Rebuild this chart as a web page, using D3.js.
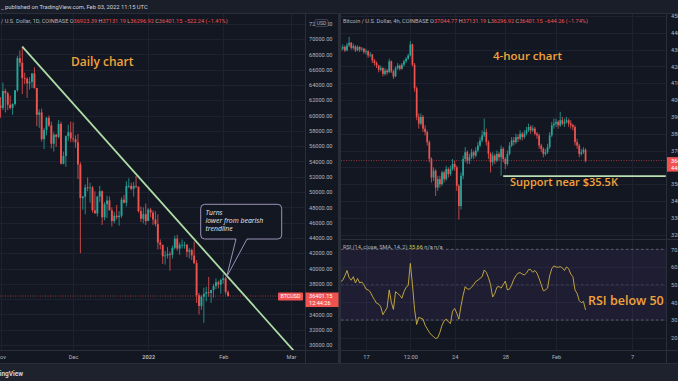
<!DOCTYPE html>
<html><head><meta charset="utf-8">
<script src="https://cdn.jsdelivr.net/npm/d3@7"></script>
<style>html,body{margin:0;padding:0;background:#131722;overflow:hidden}</style>
</head><body><svg id="c" width="678" height="381"></svg>
<script>
// ---------------- DATA ----------------
// Daily BTCUSD candles, starting 2021-10-29 (one per day)
const dailyStart = "2021-10-29";
const dailyOpen = [60600,62200,61800,
 61300,61000,63200,62900,61400,61000,61500,63300,67500,66900,64900,64800,64200,64400,65500,63600,60100,60400,56900,58100,59700,58700,56300,57500,57200,58900,53700,54700,57300,57800,
 57000,56900,56500,53600,49200,49400,50600,50500,50600,47600,47200,49400,50100,46700,48400,48900,47600,46200,46900,46700,46900,49000,48600,50800,50800,50400,50800,50700,47500,46500,47100,
 46200,47700,47300,46400,45800,43400,43100,41600,41700,41900,41800,42700,43900,42600,43100,43100,43100,42200,42400,41700,40700,36500,35100,36300,36700,36900,36800,37200,37700,38200,37900,
 38500,38700,36923.39];
const dailyHigh = [62900,62300,62400,
 62400,64300,63500,63100,62600,61600,63300,67800,68500,69000,65600,65000,65000,65500,66300,63600,60800,60900,58400,59800,60000,59200,57800,57600,59400,59200,55300,57400,58800,59200,
 59100,57400,57600,53900,49500,51000,51900,51200,50800,50100,49500,50800,50200,48700,49500,49400,48000,47400,48300,47500,49300,49600,51400,51800,51200,51300,52100,50700,48100,48000,48500,
 47900,47900,47600,47500,47100,43800,43100,42300,42800,42200,43000,44300,44400,43400,43800,43500,43200,42700,42600,43500,41100,36800,36500,37500,37600,38900,37200,38000,38700,38400,38700,
 39300,38900,37131.19];
const dailyLow = [60200,60700,59500,
 59700,60700,60400,60700,60800,60100,61300,63100,66400,62800,64100,62300,63400,63600,63500,58600,58400,56600,55600,57400,58500,55700,55300,55900,57000,53600,53600,53300,56700,56500,
 56500,55800,51700,42000,47700,47100,50100,48600,47300,47200,46800,48700,45700,46300,46600,47600,45500,45900,46400,45600,46600,48500,48100,50500,50200,49400,50500,47300,46100,45900,45700,
 46200,46700,45700,45500,42500,42500,40600,40500,41300,39700,41300,42500,42300,41800,42600,42600,41500,41300,41100,40600,35500,34000,34600,32900,35700,36300,35500,36200,37300,37400,36700,
 38000,36600,36296.92];
const dailyClose = [62200,61800,61300,
 61000,63200,62900,61400,61000,61500,63300,67500,66900,64900,64800,64200,64400,65500,63600,60100,60400,56900,58100,59700,58700,56300,57500,57200,58900,53700,54700,57300,57800,57000,
 56900,56500,53600,49200,49400,50600,50500,50600,47600,47200,49400,50100,46700,48400,48900,47600,46200,46900,46700,46900,49000,48600,50800,50800,50400,50800,50700,47500,46500,47100,46200,
 47700,47300,46400,45800,43400,43100,41600,41700,41900,41800,42700,43900,42600,43100,43100,43100,42200,42400,41700,40700,36500,35100,36300,36700,36900,36800,37200,37700,38200,37900,38500,
 38700,36923.39,36401.15];

// 4-hour BTCUSD candles, starting 2022-01-15 00:00 UTC
const h4Start = "2022-01-15T00:00:00Z";
const h4Open = [43000,43050,43150,42950,43250,43400,43100,43200,42950,43150,43000,43050,42850,42900,42650,42700,42350,42200,42050,41800,
 41900,41550,41750,41650,42300,41700,41400,41900,42050,41850,42100,42300,42450,42650,43300,42100,40700,39000,38600,39000,
 38300,38100,37500,36500,35400,35800,34800,35300,35000,35700,35300,35900,35600,35900,36200,36000,34900,33700,35500,36500,
 36900,36400,36600,36900,36700,37000,37300,37600,37900,38100,37500,36800,36300,36700,36400,36800,36600,37100,36500,36200,
 36800,37300,37600,37500,37800,37700,38000,37800,38000,38200,38400,38200,38300,38000,37900,37300,37100,36800,36900,37200,
 37900,38500,38600,38700,38500,38800,38600,38700,38800,38600,38500,38400,37500,37300,36800,36900,37044.77];
const h4High = [43250,43300,43250,43400,43750,43450,43350,43250,43250,43200,43150,43100,43050,42950,42850,42750,42450,42300,42100,42050,
 41950,41900,41850,42450,42350,41800,42000,42200,42100,42200,42400,42550,42750,43500,43350,42200,40800,39200,39200,39100,
 38500,38200,37600,36600,36000,35900,35500,35500,35800,35800,36100,36000,36100,36500,36400,36100,35000,35700,36700,37200,
 37000,36800,37100,37000,37200,37500,37800,38200,38900,38300,37600,36900,36900,36800,37000,36900,37300,37200,36600,37000,
 37500,37800,37800,38000,37950,38200,38100,38200,38400,38600,38500,38500,38400,38100,38000,37400,37200,37100,37400,38100,
 38700,38900,38900,38800,39300,39000,38900,39000,38900,38800,38600,38500,37700,37400,37100,37200,37131.19];
const h4Low = [42850,42950,42850,42900,43150,43000,43000,42850,42900,42850,42900,42750,42700,42500,42550,42200,42050,41900,41650,41700,
 41400,41450,41500,41600,41600,41250,41350,41800,41750,41800,42000,42200,42400,42600,42000,40500,38800,38300,38500,38100,
 37900,37300,36300,35100,35200,34300,34600,34800,34900,35100,35200,35400,35500,35800,35800,34600,32900,33500,35300,36300,
 36200,36200,36500,36500,36600,36900,37200,37500,37800,37300,36500,35700,36100,36200,36300,36400,35500,36300,35900,36100,
 36700,37200,37300,37400,37500,37600,37600,37700,37900,38100,38000,38100,37900,37700,37100,36900,36600,36700,36800,37100,
 37800,38300,38400,38300,38400,38500,38400,38600,38400,38300,38200,37300,37100,36600,36700,36800,36296.92];
const h4Close = [43050,43150,42950,43250,43400,43100,43200,42950,43150,43000,43050,42850,42900,42650,42700,42350,42200,42050,41800,41900,
 41550,41750,41650,42300,41700,41400,41900,42050,41850,42100,42300,42450,42650,43300,42100,40700,39000,38600,39000,38300,
 38100,37500,36500,35400,35800,34800,35300,35000,35700,35300,35900,35600,35900,36200,36000,34900,33700,35500,36500,36900,
 36400,36600,36900,36700,37000,37300,37600,37900,38100,37500,36800,36300,36700,36400,36800,36600,37100,36500,36200,36800,
 37300,37600,37500,37800,37700,38000,37800,38000,38200,38400,38200,38300,38000,37900,37300,37100,36800,36900,37200,37900,
 38500,38600,38700,38500,38800,38600,38700,38800,38600,38500,38400,37500,37300,36800,36900,37044.77,36401.15];
// RSI(14) per 4h candle
const rsiValues = [51.7,52.5,55,58,54,52.5,54.5,51,53.5,51,51.5,50,47.5,47,46,43.5,41.5,39.5,39,37.5,
 33,35,37,47,40,36,46,45,44,42.3,46,48.5,49.5,62,50,36,27.5,31.5,31,30.5,
 27,25,23,21.5,20.6,19.5,20,23,27,29.5,30.5,29,28,35,36.5,33.8,30.5,38,44,48.9,
 47.5,47.5,48.5,50,51.8,52.5,53.5,54.5,58.3,57,54,50,43,45,48.5,49,48,50,52,47,
 47.5,50,53,55,56.5,56.8,56,55.5,56.5,58.5,58.5,57,58,56.5,53.5,50,46.5,47,48,55,
 59,60.6,60,59.8,60.2,59.5,58,60,59,56,54.5,47,45,41,39.8,40.5,35.66];

// Tick labels
const leftPriceTicks = [30000,32000,34000,36000,38000,40000,42000,44000,46000,48000,50000,52000,54000,56000,58000,60000,62000,64000,66000,68000,70000,72000];
const leftTimeTicks = [["2021-11-01","Nov"],["2021-12-01","Dec"],["2022-01-01","2022"],["2022-02-01","Feb"],["2022-03-01","Mar"]];
const rightPriceTicks = [32000,33000,34000,35000,36000,37000,38000,39000,40000,41000,42000,43000,44000,45000];
const rightTimeTicks = [["2022-01-17T00:00:00Z","17"],["2022-01-20T12:00:00Z","12:00"],["2022-01-24T00:00:00Z","24"],["2022-01-28T00:00:00Z","28"],["2022-02-01T00:00:00Z","Feb"],["2022-02-07T00:00:00Z","7"]];
const rsiTicks = [20,30,40,50,60,70];

// Drawings
const trendLine = [["2021-11-10T00:00:00Z",69000],["2022-03-03T00:00:00Z",28940]];
const supportLine = [["2022-01-27T20:00:00Z",35480],["2022-02-09T16:00:00Z",35480]];
const lastPrice = 36401.15;
const calloutPoint = ["2022-02-02T00:00:00Z",38900];

// ---------------- CHART ----------------
const UP = "#26a69a", DN = "#ef5350", TXT = "#b2b5be", GRID = "#1d2130", BORDER = "#2a2e39";
const UIF = "Roboto, 'Noto Sans', sans-serif";
const svg = d3.select("#c");

svg.append("rect").attr("width",678).attr("height",381).attr("fill","#131722");
svg.append("rect").attr("width",678).attr("height",13).attr("fill","#1a1e29");
svg.append("rect").attr("y",364).attr("width",678).attr("height",17).attr("fill","#1e222d");

const defs = svg.append("defs");
defs.append("clipPath").attr("id","clipL").append("rect").attr("x",0).attr("y",13).attr("width",305).attr("height",337);
defs.append("clipPath").attr("id","clipR").append("rect").attr("x",341).attr("y",13).attr("width",325.5).attr("height",226);
defs.append("clipPath").attr("id","clipRSI").append("rect").attr("x",341).attr("y",240).attr("width",325.5).attr("height",110);

// Scales
const xL = d3.scaleUtc().domain([new Date("2021-11-01T00:00:00Z"), new Date("2022-03-01T00:00:00Z")]).range([0.5, 291]);
const yL = d3.scaleLinear().domain([30000,70000]).range([345,39]);
const xR = d3.scaleUtc().domain([new Date("2022-01-17T00:00:00Z"), new Date("2022-02-07T00:00:00Z")]).range([366, 632]);
const yR = d3.scaleLinear().domain([32000,44000]).range([234.7,32.7]);
const yRSI = d3.scaleLinear().domain([30,70]).range([320,249.3]);

// Grid
const gl = svg.append("g").attr("stroke",GRID).attr("stroke-width",1);
leftPriceTicks.forEach(v => gl.append("line").attr("x1",0).attr("x2",305).attr("y1",Math.round(yL(v))+0.5).attr("y2",Math.round(yL(v))+0.5));
leftTimeTicks.forEach(t => gl.append("line").attr("x1",Math.round(xL(new Date(t[0])))+0.5).attr("x2",Math.round(xL(new Date(t[0])))+0.5).attr("y1",13).attr("y2",350));
rightPriceTicks.forEach(v => { const y = Math.round(yR(v))+0.5; if (y>14 && y<239) gl.append("line").attr("x1",341).attr("x2",666).attr("y1",y).attr("y2",y); });
rsiTicks.forEach(v => gl.append("line").attr("x1",341).attr("x2",666).attr("y1",Math.round(yRSI(v))+0.5).attr("y2",Math.round(yRSI(v))+0.5));
rightTimeTicks.forEach(t => gl.append("line").attr("x1",Math.round(xR(new Date(t[0])))+0.5).attr("x2",Math.round(xR(new Date(t[0])))+0.5).attr("y1",13).attr("y2",350));

// Borders
const bd = svg.append("g").attr("stroke",BORDER).attr("stroke-width",1);
bd.append("line").attr("x1",0).attr("x2",678).attr("y1",13.5).attr("y2",13.5);
bd.append("line").attr("x1",0).attr("x2",678).attr("y1",350.5).attr("y2",350.5);
bd.append("line").attr("x1",0).attr("x2",678).attr("y1",363.5).attr("y2",363.5);
bd.append("line").attr("x1",305.5).attr("x2",305.5).attr("y1",13).attr("y2",364);
bd.append("line").attr("x1",666.5).attr("x2",666.5).attr("y1",13).attr("y2",364);
bd.append("line").attr("x1",341).attr("x2",678).attr("y1",239.5).attr("y2",239.5);
svg.append("rect").attr("x",338).attr("y",13).attr("width",3).attr("height",351).attr("fill","#2a2e39");

// Candles helper
function candles(g, dates, O, H, L, C, x, y, bw){
  const idx = d3.range(C.length);
  g.selectAll("line.w").data(idx).join("line")
    .attr("x1", i => x(dates[i])).attr("x2", i => x(dates[i]))
    .attr("y1", i => y(H[i])).attr("y2", i => y(L[i]))
    .attr("stroke", i => C[i] >= O[i] ? UP : DN).attr("stroke-width",0.8);
  g.selectAll("rect.b").data(idx).join("rect")
    .attr("x", i => x(dates[i]) - bw/2).attr("width", bw)
    .attr("y", i => y(Math.max(O[i],C[i])))
    .attr("height", i => Math.max(0.8, Math.abs(y(O[i]) - y(C[i]))))
    .attr("fill", i => C[i] >= O[i] ? UP : DN);
}
const dDates = dailyClose.map((_, i) => d3.utcDay.offset(new Date(dailyStart + "T00:00:00Z"), i));
const hDates = h4Close.map((_, i) => d3.utcHour.offset(new Date(h4Start), 4*i));

// LEFT PANEL
const gL = svg.append("g").attr("clip-path","url(#clipL)");
gL.append("line").attr("x1",0).attr("x2",305).attr("y1",yL(lastPrice)).attr("y2",yL(lastPrice))
  .attr("stroke",DN).attr("stroke-opacity",0.75).attr("stroke-width",0.8).attr("stroke-dasharray","1,1.5");
candles(gL, dDates, dailyOpen, dailyHigh, dailyLow, dailyClose, xL, yL, 1.9);
gL.append("line")
  .attr("x1", xL(new Date(trendLine[0][0]))).attr("y1", yL(trendLine[0][1]))
  .attr("x2", xL(new Date(trendLine[1][0]))).attr("y2", yL(trendLine[1][1]))
  .attr("stroke","#aedca5").attr("stroke-width",1.8);

// Callout
const tipX = xL(new Date(calloutPoint[0])), tipY = yL(calloutPoint[1]);
const bx0 = 200.7, bx1 = 281.7, by0 = 204.3, by1 = 239, r = 4;
const p = d3.path();
p.moveTo(bx0 + r, by0); p.lineTo(bx1 - r, by0); p.arcTo(bx1, by0, bx1, by0 + r, r);
p.lineTo(bx1, by1 - r); p.arcTo(bx1, by1, bx1 - r, by1, r);
p.lineTo(247, by1); p.lineTo(tipX + 1, tipY); p.lineTo(236, by1);
p.lineTo(bx0 + r, by1); p.arcTo(bx0, by1, bx0, by1 - r, r);
p.lineTo(bx0, by0 + r); p.arcTo(bx0, by0, bx0 + r, by0, r); p.closePath();
svg.append("path").attr("d", p.toString()).attr("fill","#131722").attr("stroke","#a99fc9").attr("stroke-width",0.9);
[["Turns",212.7],["lower from bearish",220.7],["trendline",228.7]].forEach(t =>
  svg.append("text").attr("x",205.5).attr("y",t[1]+2.3).text(t[0]).attr("font-family","'Open Sans', sans-serif")
    .attr("font-style","italic").attr("font-size",6.9).attr("fill","#e6e8ee"));

svg.append("text").attr("x",71).attr("y",65.5).text("Daily chart").attr("font-family","'Open Sans', sans-serif")
  .attr("font-weight",600).attr("font-size",12).attr("fill","#f2a33a");

// Left axis (labels hidden under the last-price box are skipped, as in TradingView)
const lpy = yL(lastPrice);
const axL = svg.append("g").attr("transform","translate(309,0)")
  .call(d3.axisRight(yL).tickValues(leftPriceTicks.filter(v => Math.abs(yL(v) - (lpy + 3.5)) > 9)).tickSize(0).tickPadding(0).tickFormat(d => d.toFixed(2)));
axL.select(".domain").remove();
axL.selectAll("text").attr("font-family",UIF).attr("font-size",5.6).attr("fill",TXT);
svg.append("rect").attr("x",315).attr("y",19.5).attr("width",13).attr("height",7).attr("rx",1.5).attr("fill","#131722").attr("stroke","#5d606b").attr("stroke-width",0.6);
svg.append("text").attr("x",321.5).attr("y",25).attr("text-anchor","middle").text("USD").attr("font-family",UIF).attr("font-size",5).attr("fill",TXT);

const axLT = svg.append("g").attr("transform","translate(0,355.4)")
  .call(d3.axisBottom(xL).tickValues(leftTimeTicks.map(t => new Date(t[0]+"T00:00:00Z"))).tickSize(0).tickPadding(0)
    .tickFormat((d, i) => leftTimeTicks[i][1]));
axLT.select(".domain").remove();
axLT.selectAll("text").attr("font-family",UIF).attr("font-size",5.6).attr("fill",TXT)
  .attr("font-weight",(d,i) => leftTimeTicks[i][1]==="2022" ? 700 : 400);

// Last price labels left
svg.append("rect").attr("x",278).attr("y",lpy-3.5).attr("width",25).attr("height",8).attr("rx",1).attr("fill",DN);
svg.append("text").attr("x",290.5).attr("y",lpy+2.4).attr("text-anchor","middle").text("BTCUSD").attr("font-family",UIF).attr("font-size",5.4).attr("fill","#fff");
svg.append("rect").attr("x",305.5).attr("y",lpy-3.5).attr("width",33).attr("height",14.5).attr("fill",DN);
svg.append("text").attr("x",309).attr("y",lpy+2.4).text("36401.15").attr("font-family",UIF).attr("font-size",5.6).attr("fill","#fff");
svg.append("text").attr("x",309).attr("y",lpy+9).text("12:44:26").attr("font-family",UIF).attr("font-size",5.6).attr("fill","#fff");

// RIGHT PANEL price
const gR = svg.append("g").attr("clip-path","url(#clipR)");
gR.append("line").attr("x1",341).attr("x2",666).attr("y1",yR(lastPrice)).attr("y2",yR(lastPrice))
  .attr("stroke",DN).attr("stroke-opacity",0.75).attr("stroke-width",0.8).attr("stroke-dasharray","1,1.5");
candles(gR, hDates, h4Open, h4High, h4Low, h4Close, xR, yR, 1.7);
gR.append("line")
  .attr("x1", xR(new Date(supportLine[0][0]))).attr("y1", yR(supportLine[0][1]))
  .attr("x2", xR(new Date(supportLine[1][0]))).attr("y2", yR(supportLine[1][1]))
  .attr("stroke","#b9dfb2").attr("stroke-width",1.8);
svg.append("text").attr("x",493).attr("y",59.5).text("4-hour chart").attr("font-family","'Open Sans', sans-serif")
  .attr("font-weight",600).attr("font-size",11.5).attr("fill","#f2a33a");
svg.append("text").attr("x",510).attr("y",186).text("Support near $35.5K").attr("font-family","'Open Sans', sans-serif")
  .attr("font-weight",600).attr("font-size",11).attr("fill","#f2a33a");

// RSI pane
const gS = svg.append("g").attr("clip-path","url(#clipRSI)");
gS.append("rect").attr("x",341).attr("width",325.5).attr("y",yRSI(70)).attr("height",yRSI(30)-yRSI(70)).attr("fill","#7e57c2").attr("fill-opacity",0.1);
[[70,1],[30,1],[50,0.45]].forEach(d => gS.append("line").attr("x1",341).attr("x2",666).attr("y1",yRSI(d[0])).attr("y2",yRSI(d[0]))
  .attr("stroke","#787b86").attr("stroke-opacity",d[1]).attr("stroke-width",0.7).attr("stroke-dasharray","2.5,2.5"));
gS.append("path").datum(rsiValues).attr("fill","none").attr("stroke","#cfb13e").attr("stroke-width",0.9)
  .attr("d", d3.line().x((d,i) => xR(hDates[i])).y(d => yRSI(d)));
svg.append("text").attr("x",588).attr("y",304.5).text("RSI below 50").attr("font-family","'Open Sans', sans-serif")
  .attr("font-weight",600).attr("font-size",12.5).attr("fill","#f2a33a");

// Right axes
const rpy = yR(lastPrice);
const axR = svg.append("g").attr("transform","translate(671,0)")
  .call(d3.axisRight(yR).tickValues(rightPriceTicks.filter(v => Math.abs(yR(v) - (rpy + 3.5)) > 9)).tickSize(0).tickPadding(0).tickFormat(d => d.toFixed(2)));
axR.select(".domain").remove();
axR.selectAll("text").attr("font-family",UIF).attr("font-size",5.6).attr("fill",TXT);
const axS = svg.append("g").attr("transform","translate(671,0)")
  .call(d3.axisRight(yRSI).tickValues(rsiTicks).tickSize(0).tickPadding(0).tickFormat(d => d.toFixed(2)));
axS.select(".domain").remove();
axS.selectAll("text").attr("font-family",UIF).attr("font-size",5.6).attr("fill",TXT);
svg.append("rect").attr("x",667).attr("y",rpy-3.5).attr("width",12).attr("height",14.5).attr("fill",DN);
svg.append("text").attr("x",671).attr("y",rpy+2.4).text("36401.15").attr("font-family",UIF).attr("font-size",5.6).attr("fill","#fff");
svg.append("text").attr("x",671).attr("y",rpy+9).text("44:26").attr("font-family",UIF).attr("font-size",5.6).attr("fill","#fff");

const axRT = svg.append("g").attr("transform","translate(0,355.4)")
  .call(d3.axisBottom(xR).tickValues(rightTimeTicks.map(t => new Date(t[0]))).tickSize(0).tickPadding(0)
    .tickFormat((d, i) => rightTimeTicks[i][1]));
axRT.select(".domain").remove();
axRT.selectAll("text").attr("font-family",UIF).attr("font-size",5.6).attr("fill",TXT);

// Headers
function header(x, label, parts){
  const t = svg.append("text").attr("x",x).attr("y",23).attr("font-family",UIF).attr("font-size",5.6).attr("fill",TXT);
  t.append("tspan").text(label);
  parts.forEach(pp => { t.append("tspan").attr("fill",TXT).text(" " + pp[0]); t.append("tspan").attr("fill",DN).text(pp[1]); });
}
header(1, "/ U.S. Dollar, 1D, COINBASE", [["O","36923.39"],["H","37131.19"],["L","36296.92"],["C","36401.15"],["","−522.24 (−1.41%)"]]);
header(343, "Bitcoin / U.S. Dollar, 4h, COINBASE", [["O","37044.77"],["H","37131.19"],["L","36296.92"],["C","36401.15"],["","−644.26 (−1.74%)"]]);
const rt = svg.append("text").attr("x",343).attr("y",248.5).attr("font-family",UIF).attr("font-size",5.6).attr("fill",TXT);
rt.append("tspan").text("RSI (14, close, SMA, 14, 2) ");
rt.append("tspan").attr("fill","#e0c341").text("35.66");
rt.append("tspan").text("  n/a  n/a");

svg.append("text").attr("x",1).attr("y",9).text("_ published on TradingView.com, Feb 03, 2022 11:15 UTC")
  .attr("font-family",UIF).attr("font-size",5.8).attr("fill","#d1d4dc");
svg.append("text").attr("x",23).attr("y",375.5).attr("text-anchor","end").text("TradingView")
  .attr("font-family",UIF).attr("font-weight",700).attr("font-size",6.5).attr("fill","#d1d4dc");
</script></body></html>
